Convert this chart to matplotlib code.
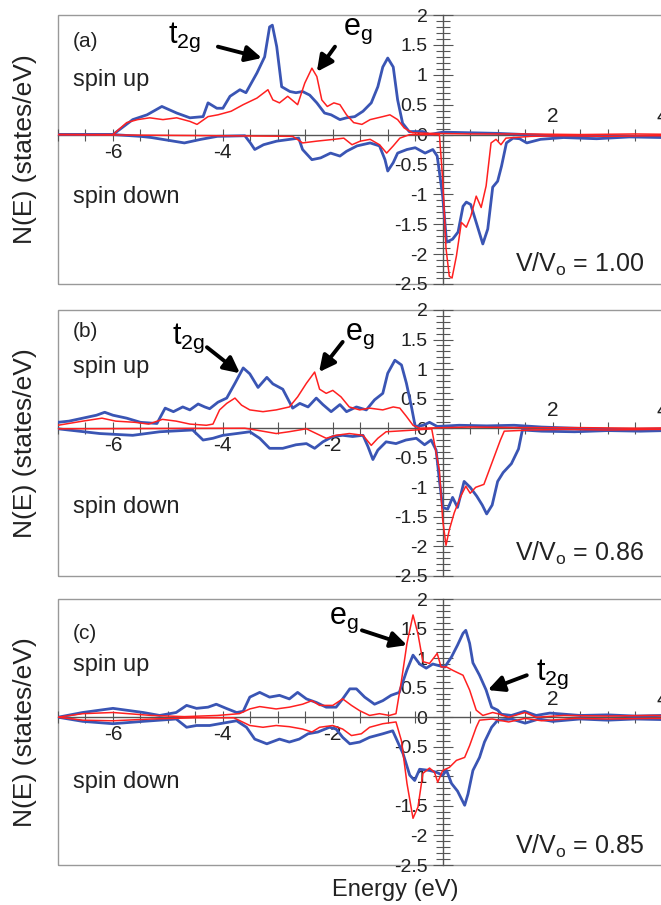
import matplotlib as mpl
mpl.use("Agg")
import matplotlib.pyplot as plt
from matplotlib import font_manager
from matplotlib.patches import Rectangle

plt.rcParams['font.family'] = ['Liberation Sans', 'DejaVu Sans']

names = sorted(set(f.name for f in font_manager.fontManager.ttflist))
narrow = 'Liberation Sans Narrow' in names

BLUE = '#3a55b4'
RED = '#ff2020'

# ---------------- panel (a)  V/Vo = 1.00 ----------------
a_up_blue_x = [-7.0, -6.0, -5.64, -5.38, -5.11, -4.84, -4.6, -4.36, -4.27, -4.11, -4.0, -3.87, -3.69, -3.58,
               -3.38, -3.24, -3.15, -3.1, -3.02, -2.93, -2.78, -2.67, -2.55, -2.42, -2.29, -2.15, -2.03,
               -1.87, -1.75, -1.6, -1.45, -1.3, -1.18, -1.09, -1.0, -0.9, -0.82, -0.73, -0.61, -0.36, -0.24,
               0.0, 0.5, 1.0, 1.5, 2.0, 2.5, 3.0, 3.5, 4.0, 4.5]
a_up_blue_y = [0.0, 0.0, 0.25, 0.33, 0.47, 0.36, 0.28, 0.3, 0.53, 0.44, 0.44, 0.64, 0.75, 0.7,
               1.03, 1.3, 1.8, 1.83, 1.47, 0.8, 0.72, 0.7, 0.72, 0.66, 0.53, 0.36, 0.33,
               0.25, 0.28, 0.3, 0.39, 0.53, 0.8, 1.13, 1.28, 1.13, 0.58, 0.19, 0.05, 0.05, 0.0,
               0.04, 0.03, 0.02, 0.0, -0.02, -0.03, -0.02, -0.03, -0.02, -0.02]
a_up_red_x = [-7.0, -6.0, -5.75, -5.55, -5.33, -5.09, -4.84, -4.6, -4.47, -4.27, -4.09, -3.85, -3.63, -3.38,
              -3.18, -3.09, -2.97, -2.82, -2.64, -2.51, -2.38, -2.29, -2.2, -2.1, -1.98, -1.87, -1.75,
              -1.62, -1.47, -1.32, -1.09, -0.96, -0.82, -0.7, -0.55, -0.25, 0.5, 1.5, 2.5, 3.5, 4.5]
a_up_red_y = [0.0, 0.0, 0.2, 0.25, 0.28, 0.25, 0.28, 0.22, 0.17, 0.3, 0.33, 0.39, 0.5, 0.61,
              0.75, 0.58, 0.53, 0.64, 0.5, 0.86, 1.11, 0.97, 0.58, 0.47, 0.53, 0.5, 0.33,
              0.2, 0.17, 0.25, 0.3, 0.33, 0.25, 0.11, 0.03, 0.02, 0.01, 0.01, 0.0, 0.01, 0.0]
a_dn_blue_x = [-7.0, -6.0, -5.5, -5.3, -4.7, -4.4, -4.1, -3.6, -3.5, -3.42, -3.26, -3.02, -2.78, -2.62,
               -2.55, -2.38, -2.22, -2.04, -1.87, -1.75, -1.56, -1.32, -1.15, -1.05, -1.0, -0.9, -0.82,
               -0.65, -0.5, -0.32, -0.18, -0.1, 0.0, 0.07, 0.18, 0.28, 0.37, 0.43, 0.51, 0.61, 0.73,
               0.82, 0.91, 1.0, 1.07, 1.16, 1.28, 1.4, 1.53, 1.78, 2.2, 2.8, 3.4, 4.0, 4.5]
a_dn_blue_y = [0.0, 0.0, -0.03, -0.05, -0.14, -0.08, -0.03, -0.02, -0.14, -0.25, -0.17, -0.11, -0.08, -0.06,
               -0.25, -0.42, -0.39, -0.31, -0.36, -0.28, -0.19, -0.14, -0.19, -0.42, -0.61, -0.47, -0.31,
               -0.25, -0.22, -0.31, -0.25, -0.36, -1.03, -1.8, -1.75, -1.63, -1.2, -1.13, -1.17, -1.47, -1.83,
               -1.58, -0.88, -0.78, -0.53, -0.14, -0.06, -0.07, -0.14, -0.08, -0.05, -0.07, -0.04, -0.05, -0.04]
a_dn_red_x = [-7.0, -4.0, -2.73, -2.55, -2.29, -1.98, -1.8, -1.65, -1.5, -1.32, -1.15, -1.02, -0.9, -0.78,
              -0.6, -0.06, 0.0, 0.06, 0.12, 0.17, 0.25, 0.34, 0.43, 0.51, 0.61, 0.7, 0.79, 0.88, 0.97,
              1.06, 1.15, 1.6, 2.2, 3.0, 3.8, 4.5]
a_dn_red_y = [0.0, -0.02, -0.03, -0.14, -0.11, -0.08, -0.06, -0.17, -0.11, -0.08, -0.17, -0.31, -0.19, -0.06,
              0.0, 0.0, -0.75, -1.9, -2.37, -2.4, -2.03, -1.47, -1.55, -1.37, -1.03, -1.22, -0.86, -0.14, -0.08,
              -0.17, -0.06, -0.03, -0.02, -0.03, -0.02, -0.02]

# ---------------- panel (b)  V/Vo = 0.86 ----------------
b_up_blue_x = [-7.0, -6.8, -6.55, -6.3, -6.15, -6.0, -5.75, -5.5, -5.2, -5.05, -4.9, -4.73, -4.6, -4.45,
               -4.33, -4.24, -4.09, -3.93, -3.78, -3.63, -3.51, -3.36, -3.2, -3.09, -2.91, -2.73, -2.6,
               -2.45, -2.3, -2.18, -2.03, -1.87, -1.75, -1.57, -1.39, -1.24, -1.09, -1.0, -0.87, -0.75,
               -0.66, -0.57, -0.5, -0.35, -0.24, -0.1, 0.3, 0.8, 1.3, 1.8, 2.4, 3.0, 3.6, 4.5]
b_up_blue_y = [0.1, 0.12, 0.17, 0.22, 0.27, 0.22, 0.17, 0.1, 0.08, 0.34, 0.28, 0.36, 0.31, 0.41,
               0.36, 0.33, 0.44, 0.51, 0.76, 1.02, 0.92, 0.69, 0.86, 0.75, 0.66, 0.34, 0.42,
               0.36, 0.51, 0.4, 0.28, 0.4, 0.28, 0.36, 0.31, 0.48, 0.59, 0.93, 1.15, 1.07,
               0.76, 0.37, 0.03, 0.05, 0.1, 0.03, 0.05, 0.04, 0.05, 0.02, 0.0, -0.02, -0.02, -0.01]
b_up_red_x = [-7.0, -6.55, -6.2, -5.95, -5.6, -5.35, -5.1, -4.85, -4.6, -4.3, -4.18, -4.06, -3.93, -3.78,
              -3.66, -3.51, -3.27, -3.03, -2.79, -2.64, -2.48, -2.33, -2.24, -2.12, -2.0, -1.85, -1.7,
              -1.51, -1.33, -1.09, -0.9, -0.78, -0.66, -0.54, -0.42, 0.5, 1.5, 2.5, 3.5, 4.5]
b_up_red_y = [0.05, 0.12, 0.17, 0.12, 0.1, 0.07, 0.15, 0.12, 0.07, 0.05, 0.07, 0.31, 0.42, 0.51,
              0.39, 0.31, 0.28, 0.31, 0.36, 0.53, 0.76, 0.95, 0.66, 0.59, 0.64, 0.53, 0.36,
              0.31, 0.34, 0.31, 0.36, 0.34, 0.2, 0.05, 0.0, 0.02, 0.01, 0.01, 0.0, 0.01]
b_dn_blue_x = [-7.0, -6.24, -5.64, -5.15, -4.55, -4.36, -4.18, -4.0, -3.75, -3.51, -3.33, -3.15, -2.91, -2.67,
               -2.48, -2.33, -2.18, -2.0, -1.82, -1.64, -1.45, -1.36, -1.27, -1.18, -1.03, -0.85, -0.67,
               -0.48, -0.33, -0.21, -0.12, -0.06, 0.0, 0.09, 0.18, 0.27, 0.39, 0.5, 0.62, 0.72, 0.8,
               0.9, 1.0, 1.1, 1.25, 1.38, 1.45, 1.8, 2.4, 3.0, 3.6, 4.5]
b_dn_blue_y = [-0.01, -0.09, -0.12, -0.06, -0.03, -0.2, -0.17, -0.12, -0.09, -0.06, -0.17, -0.34, -0.34, -0.28,
               -0.26, -0.34, -0.23, -0.14, -0.12, -0.14, -0.12, -0.31, -0.53, -0.37, -0.23, -0.26, -0.2,
               -0.17, -0.28, -0.2, -0.37, -0.88, -1.34, -1.37, -1.17, -1.34, -0.9, -1.0, -1.15, -1.3, -1.45,
               -1.3, -0.9, -0.75, -0.6, -0.35, -0.03, -0.05, -0.06, -0.04, -0.05, -0.03]
b_dn_red_x = [-7.0, -3.6, -3.4, -3.03, -2.8, -2.48, -2.3, -2.12, -1.94, -1.7, -1.45, -1.3, -1.18, -1.03,
              -0.5, -0.2, -0.06, 0.0, 0.06, 0.12, 0.21, 0.33, 0.42, 0.5, 0.6, 0.75, 0.85, 0.95, 1.05,
              1.12, 1.6, 2.2, 3.0, 3.8, 4.5]
b_dn_red_y = [-0.01, 0.0, -0.03, -0.09, -0.06, -0.01, -0.09, -0.17, -0.12, -0.09, -0.12, -0.29, -0.17, -0.06,
              -0.03, -0.01, -0.71, -1.55, -1.98, -1.72, -1.43, -1.15, -0.98, -1.1, -1.0, -0.95, -0.7, -0.45, -0.2,
              -0.05, -0.03, -0.02, -0.03, -0.02, -0.02]

# ---------------- panel (c)  V/Vo = 0.85 ----------------
c_up_blue_x = [-7.0, -6.55, -6.0, -5.45, -5.15, -4.85, -4.66, -4.48, -4.27, -4.12, -3.94, -3.75, -3.63,
               -3.51, -3.33, -3.15, -2.97, -2.79, -2.64, -2.48, -2.3, -2.12, -1.94, -1.82, -1.69, -1.57,
               -1.42, -1.24, -1.09, -0.94, -0.79, -0.65, -0.54, -0.42, -0.3, -0.18, -0.06, 0.04, 0.16,
               0.27, 0.37, 0.42, 0.49, 0.55, 0.67, 0.79, 0.89, 1.0, 1.07, 1.25, 1.49, 1.7, 1.95, 2.5,
               3.0, 3.5, 4.0, 4.5]
c_up_blue_y = [0.0, 0.08, 0.15, 0.08, 0.03, 0.08, 0.2, 0.15, 0.17, 0.22, 0.15, 0.08, 0.1,
               0.34, 0.42, 0.34, 0.37, 0.31, 0.42, 0.31, 0.25, 0.17, 0.17, 0.31, 0.48, 0.48,
               0.34, 0.22, 0.28, 0.37, 0.42, 0.8, 1.05, 0.9, 0.83, 0.9, 0.87, 0.85, 1.02,
               1.22, 1.42, 1.47, 1.25, 0.92, 0.71, 0.46, 0.17, 0.12, 0.05, 0.03, 0.1, 0.03, 0.07, 0.03,
               0.04, 0.02, 0.03, 0.02]
c_up_red_x = [-7.0, -6.55, -6.0, -5.3, -4.7, -4.1, -3.7, -3.51, -3.33, -3.03, -2.79, -2.55, -2.38, -2.24,
              -2.0, -1.82, -1.66, -1.51, -1.33, -1.15, -0.97, -0.85, -0.75, -0.65, -0.54, -0.45, -0.36,
              -0.24, -0.1, -0.03, 0.07, 0.19, 0.37, 0.49, 0.61, 0.73, 0.91, 1.0, 1.2, 1.5, 1.7, 2.2,
              3.0, 3.8, 4.5]
c_up_red_y = [0.0, 0.06, 0.08, 0.03, 0.01, 0.03, 0.06, 0.14, 0.18, 0.14, 0.17, 0.22, 0.28, 0.2,
              0.2, 0.31, 0.2, 0.11, 0.03, 0.06, 0.03, 0.06, 0.62, 1.25, 1.73, 1.41, 0.94,
              0.91, 1.08, 0.85, 0.85, 0.79, 0.71, 0.46, 0.12, 0.03, 0.08, 0.06, 0.0, 0.08, 0.0, 0.03,
              0.02, 0.03, 0.02]
c_dn_blue_x = [-7.0, -6.55, -6.0, -5.45, -4.85, -4.66, -4.48, -4.24, -4.06, -3.75, -3.57, -3.42, -3.2,
               -2.97, -2.79, -2.61, -2.45, -2.27, -2.06, -1.94, -1.82, -1.69, -1.51, -1.33, -1.09, -0.91,
               -0.72, -0.6, -0.51, -0.42, -0.24, -0.12, 0.0, 0.07, 0.16, 0.27, 0.4, 0.46, 0.55, 0.67,
               0.76, 0.89, 1.0, 1.25, 1.5, 1.75, 2.0, 2.5, 3.0, 3.5, 4.0, 4.5]
c_dn_blue_y = [0.0, -0.07, -0.11, -0.07, -0.03, -0.17, -0.14, -0.14, -0.11, -0.06, -0.17, -0.37, -0.45,
               -0.37, -0.42, -0.37, -0.28, -0.25, -0.17, -0.2, -0.34, -0.45, -0.42, -0.34, -0.28, -0.23,
               -0.62, -0.98, -1.07, -0.88, -0.9, -0.93, -0.98, -0.9, -1.12, -1.25, -1.49, -1.3, -0.9, -0.68,
               -0.42, -0.17, -0.05, -0.03, -0.1, -0.03, -0.07, -0.03, -0.05, -0.03, -0.04, -0.03]
c_dn_red_x = [-7.0, -6.55, -6.0, -5.3, -4.5, -3.8, -3.51, -3.27, -3.03, -2.79, -2.55, -2.38, -2.24, -2.0,
              -1.82, -1.66, -1.48, -1.33, -1.09, -0.85, -0.75, -0.65, -0.54, -0.45, -0.36, -0.24, -0.15,
              -0.09, 0.0, 0.12, 0.25, 0.4, 0.49, 0.61, 0.67, 0.9, 1.2, 1.5, 1.8, 2.4, 3.0, 3.8, 4.5]
c_dn_red_y = [0.0, -0.05, -0.06, -0.03, -0.01, -0.01, -0.14, -0.17, -0.14, -0.16, -0.2, -0.25, -0.17, -0.14,
              -0.2, -0.31, -0.28, -0.17, -0.11, -0.08, -0.4, -1.12, -1.71, -1.52, -0.95, -0.86, -0.93,
              -1.1, -0.9, -0.85, -0.73, -0.68, -0.48, -0.17, -0.05, -0.03, -0.08, -0.02, -0.06, -0.02, -0.03,
              -0.02, -0.02]

panel_tags = ['(a)', '(b)', '(c)']
ratios = ['1.00', '0.86', '0.85']
ytick_vals = [-2.5, -2, -1.5, -1, -0.5, 0, 0.5, 1, 1.5, 2]
ytick_text = ['-2.5', '-2', '-1.5', '-1', '-0.5', '0', '0.5', '1', '1.5', '2']
xlabels_below = [[-6, -4], [-6, -4, -2], [-6, -4, -2]]
xlabels_above = [2, 4]

curves = [
    (a_up_blue_x, a_up_blue_y, a_up_red_x, a_up_red_y, a_dn_blue_x, a_dn_blue_y, a_dn_red_x, a_dn_red_y),
    (b_up_blue_x, b_up_blue_y, b_up_red_x, b_up_red_y, b_dn_blue_x, b_dn_blue_y, b_dn_red_x, b_dn_red_y),
    (c_up_blue_x, c_up_blue_y, c_up_red_x, c_up_red_y, c_dn_blue_x, c_dn_blue_y, c_dn_red_x, c_dn_red_y),
]

# text label positions (data coords) per panel
tag_y = [1.55, 1.63, 1.42]
up_y = [0.92, 1.03, 0.88]
down_y = [-1.05, -1.34, -1.1]
ratio_y = [-2.17, -2.12, -2.19]

W, H = 661, 905
fig = plt.figure(figsize=(W / 100, H / 100), dpi=100)

# axes boxes in pixels: (top, bottom)
boxes = [(15, 284), (310, 576), (599, 865)]
left_px, right_px = 58, 690

if narrow:
    ylab_font = dict(family=['Liberation Sans Narrow', 'Liberation Sans'], fontsize=22)
else:
    ylab_font = dict(fontsize=19)

axes = []
for i, (top, bot) in enumerate(boxes):
    ax = fig.add_axes([left_px / W, 1 - bot / H, (right_px - left_px) / W, (bot - top) / H])
    axes.append(ax)
    bx, by, rx, ry, dbx, dby, drx, dry = curves[i]
    ax.plot(bx, by, color=BLUE, lw=2.0, zorder=3, solid_joinstyle='round')
    ax.plot(dbx, dby, color=BLUE, lw=2.0, zorder=3, solid_joinstyle='round')
    ax.plot(rx, ry, color=RED, lw=1.1, zorder=4, solid_joinstyle='round')
    ax.plot(drx, dry, color=RED, lw=1.1, zorder=4, solid_joinstyle='round')

    ax.set_xlim(-7, 4.5)
    ax.set_ylim(-2.5, 2)

    for s in ['top', 'right']:
        ax.spines[s].set_visible(False)
    ax.spines['left'].set_position(('data', 0))
    ax.spines['bottom'].set_position(('data', 0))
    ax.spines['left'].set_color('#555555')
    ax.spines['bottom'].set_color('#555555')
    ax.spines['left'].set_linewidth(1.0)
    ax.spines['bottom'].set_linewidth(1.0)
    ax.add_patch(Rectangle((0, 0), 1, 1, transform=ax.transAxes, fill=False,
                           edgecolor='#999999', lw=1.0, clip_on=False, zorder=1))

    ax.set_xticks([v * 0.5 for v in range(-14, 10)])
    ax.set_xticklabels([])
    ax.tick_params(axis='x', direction='inout', length=8, width=0.8, color='#555555')
    ax.set_yticks(ytick_vals)
    ax.set_yticklabels(ytick_text, fontsize=14, color='#222222')
    ax.set_yticks([v * 0.1 for v in range(-25, 21)], minor=True)
    ax.tick_params(axis='y', which='major', direction='inout', length=14, width=0.8,
                   color='#555555', pad=4)
    ax.tick_params(axis='y', which='minor', direction='inout', length=10, width=0.8,
                   color='#555555')

    for xv in xlabels_below[i]:
        ax.text(xv, -0.3, str(xv), ha='center', va='center', fontsize=15, color='#222222', zorder=2)
    for xv in xlabels_above:
        ax.text(xv, 0.3, str(xv), ha='center', va='center', fontsize=15, color='#222222', zorder=2)

    ax.text(-6.73, tag_y[i], panel_tags[i], fontsize=15, ha='left', va='center', color='#222222')
    ax.text(-6.73, up_y[i], 'spin up', fontsize=17, ha='left', va='center', color='#222222')
    ax.text(-6.73, down_y[i], 'spin down', fontsize=17, ha='left', va='center', color='#222222')
    ax.text(3.67, ratio_y[i], 'V/V$_\\mathregular{o}$ = ' + ratios[i], fontsize=18,
            ha='right', va='center', color='#222222')

    fig.text(25 / W, 1 - (top + bot) / 2 / H, 'N(E) (states/eV)', rotation=90,
             ha='center', va='center', color='#222222', **ylab_font)

arrow = dict(arrowstyle='-|>', lw=2.8, color='black', mutation_scale=24, shrinkA=0, shrinkB=0)
t2g = 't$_\\mathregular{2g}$'
eg = 'e$_\\mathregular{g}$'
axes[0].annotate('', xy=(-3.29, 1.28), xytext=(-4.09, 1.47), arrowprops=arrow)
axes[0].text(-4.7, 1.62, t2g, fontsize=22, ha='center', va='center')
axes[0].annotate('', xy=(-2.29, 1.05), xytext=(-1.96, 1.47), arrowprops=arrow)
axes[0].text(-1.55, 1.74, eg, fontsize=22, ha='center', va='center')

axes[1].annotate('', xy=(-3.69, 0.93), xytext=(-4.29, 1.37), arrowprops=arrow)
axes[1].text(-4.62, 1.52, t2g, fontsize=22, ha='center', va='center')
axes[1].annotate('', xy=(-2.25, 0.95), xytext=(-1.82, 1.46), arrowprops=arrow)
axes[1].text(-1.5, 1.56, eg, fontsize=22, ha='center', va='center')

axes[2].annotate('', xy=(-0.65, 1.22), xytext=(-1.47, 1.47), arrowprops=arrow)
axes[2].text(-1.8, 1.64, eg, fontsize=22, ha='center', va='center')
axes[2].annotate('', xy=(0.82, 0.46), xytext=(1.53, 0.71), arrowprops=arrow)
axes[2].text(2.0, 0.72, t2g, fontsize=22, ha='center', va='center')

fig.text(395 / W, 1 - 890 / H, 'Energy (eV)', ha='center', va='center', fontsize=17, color='#222222')

fig.savefig('out.png', dpi=100)
